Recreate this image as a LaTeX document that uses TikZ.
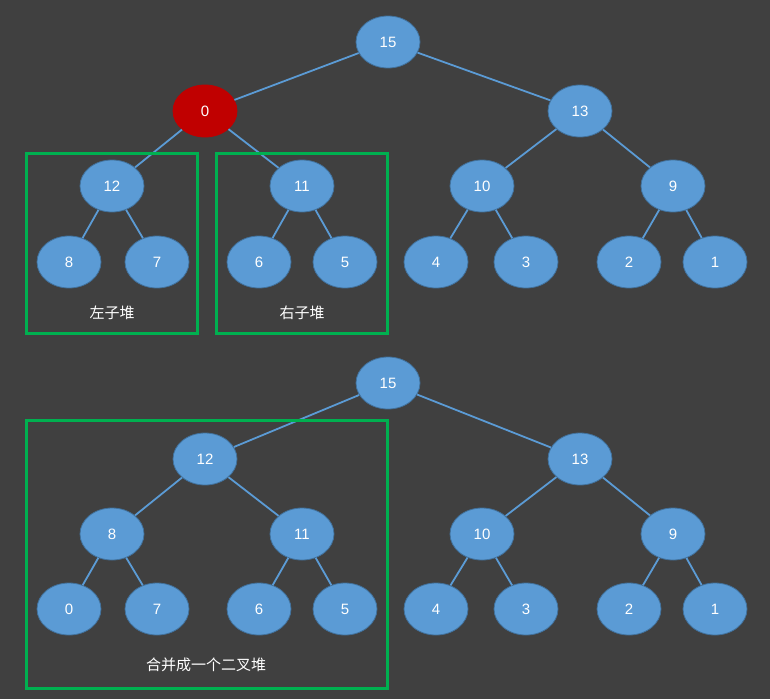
\documentclass[tikz,border=0pt]{standalone}
\usepackage{fontspec}
\setmainfont{Liberation Sans}
\newfontfamily\cjk{Noto Sans CJK SC}
\usetikzlibrary{shapes.geometric}
\definecolor{bg}{HTML}{404040}
\definecolor{nblue}{HTML}{5B9BD5}
\definecolor{nedge}{HTML}{41719C}
\definecolor{nred}{HTML}{C00000}
\definecolor{gbox}{HTML}{00B050}
\begin{document}
\begin{tikzpicture}[x=1pt,y=-1pt,
  hn/.style={ellipse,fill=nblue,draw=nedge,line width=0.8pt,minimum width=64pt,minimum height=52pt,inner sep=0pt,text=white,font=\fontsize{15}{17}\selectfont},
  rn/.style={hn,fill=nred,draw=nred},
  ln/.style={draw=nblue,line width=1.8pt},
  gb/.style={draw=gbox,line width=3pt},
  lab/.style={text=white,font=\cjk\fontsize{15}{17}\selectfont}]
\fill[bg] (0,0) rectangle (770,699);
\useasboundingbox (0,0) rectangle (770,699);
% top tree
\node[hn] (a15) at (388,42) {15};
\node[rn] (a0) at (205,111) {0};
\node[hn] (a13) at (580,111) {13};
\node[hn] (a12) at (112,186) {12};
\node[hn] (a11) at (302,186) {11};
\node[hn] (a10) at (482,186) {10};
\node[hn] (a9) at (673,186) {9};
\node[hn] (a8) at (69,262) {8};
\node[hn] (a7) at (157,262) {7};
\node[hn] (a6) at (259,262) {6};
\node[hn] (a5) at (345,262) {5};
\node[hn] (a4) at (436,262) {4};
\node[hn] (a3) at (526,262) {3};
\node[hn] (a2) at (629,262) {2};
\node[hn] (a1) at (715,262) {1};
\begin{scope}[on background layer/.style={}]
\end{scope}
% bottom tree
\node[hn] (b15) at (388,383) {15};
\node[hn] (b12) at (205,459) {12};
\node[hn] (b13) at (580,459) {13};
\node[hn] (b8) at (112,534) {8};
\node[hn] (b11) at (302,534) {11};
\node[hn] (b10) at (482,534) {10};
\node[hn] (b9) at (673,534) {9};
\node[hn] (b0) at (69,609) {0};
\node[hn] (b7) at (157,609) {7};
\node[hn] (b6) at (259,609) {6};
\node[hn] (b5) at (345,609) {5};
\node[hn] (b4) at (436,609) {4};
\node[hn] (b3) at (526,609) {3};
\node[hn] (b2) at (629,609) {2};
\node[hn] (b1) at (715,609) {1};
\foreach \p/\c in {a15/a0,a15/a13,a0/a12,a0/a11,a13/a10,a13/a9,a12/a8,a12/a7,a11/a6,a11/a5,a10/a4,a10/a3,a9/a2,a9/a1,
  b15/b12,b15/b13,b12/b8,b12/b11,b13/b10,b13/b9,b8/b0,b8/b7,b11/b6,b11/b5,b10/b4,b10/b3,b9/b2,b9/b1}
  \draw[ln] (\p) -- (\c);
\draw[gb] (26,153) rectangle (197,333);
\draw[gb] (216,153) rectangle (387,333);
\draw[gb] (26,420) rectangle (387,688);
\node[lab] (l1) at (112,313) {左子堆};
\node[lab] (l2) at (302,313) {右子堆};
\node[lab] (l3) at (206,665) {合并成一个二叉堆};
\end{tikzpicture}
\end{document}
